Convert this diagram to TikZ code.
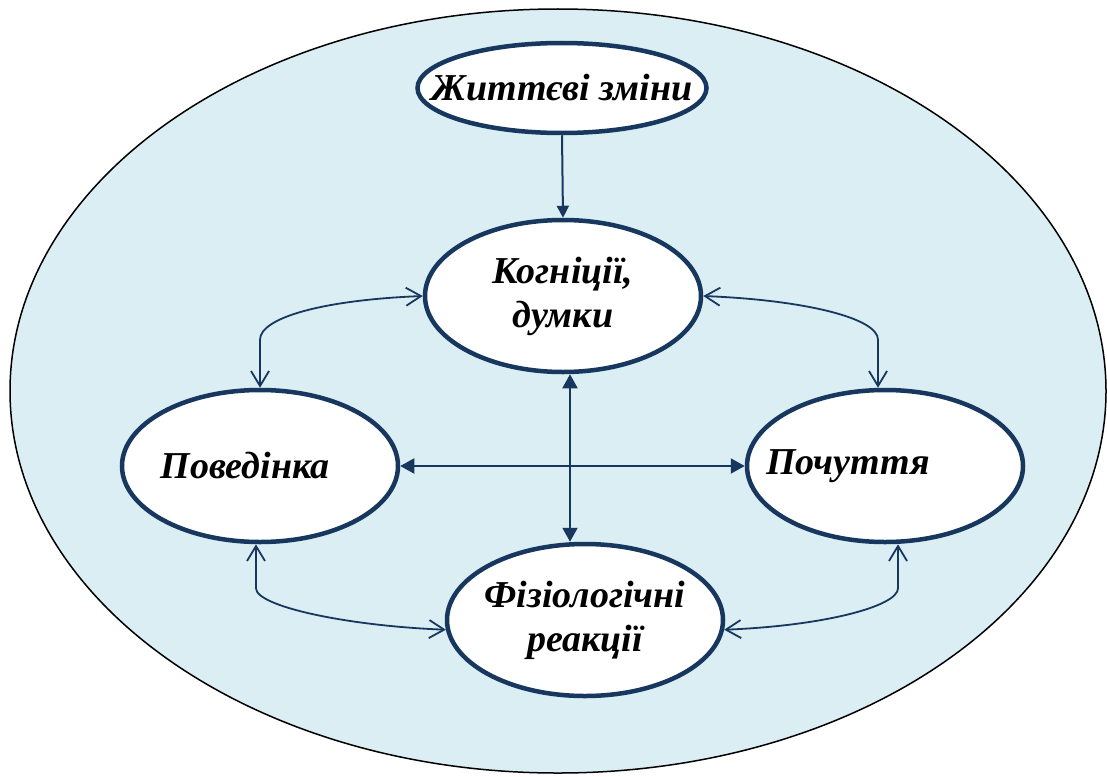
\documentclass[tikz,border=0pt]{standalone}
\usepackage{fontspec}
\setmainfont{Liberation Serif}
\usetikzlibrary{shapes.geometric, arrows.meta}
\definecolor{nodeblue}{HTML}{17375E}
\definecolor{fieldblue}{HTML}{DAEEF3}
\tikzstyle{field} = [draw=black, line width=1.5pt, fill=fieldblue]
\tikzstyle{enode} = [ellipse, draw=nodeblue, line width=4.5pt, fill=white, inner xsep=-60pt, inner ysep=-12pt, minimum width=276pt, minimum height=152pt, align=center, font=\bfseries\itshape\fontsize{38}{44}\selectfont]
\tikzstyle{line} = [draw=nodeblue, line width=2pt]
\tikzstyle{solidtip} = [line, -{Triangle[length=12pt,width=12pt]}]
\tikzstyle{bothsolid} = [line, {Triangle[length=14pt,width=15pt]}-{Triangle[length=14pt,width=15pt]}]
\tikzstyle{bothopen} = [draw=nodeblue, line width=1.8pt, {Straight Barb[length=15pt,width=18pt]}-{Straight Barb[length=15pt,width=18pt]}]

\begin{document}
\begin{tikzpicture}[x=1pt, y=-1pt]
	\useasboundingbox (0,0) rectangle (1107,776);
	\path [field] (558,391) ellipse [x radius=548pt, y radius=382pt];

	\node [enode, minimum width=289pt, minimum height=90pt] (life) at (562,88) {Життєві зміни};
	\node [enode] (cogn) at (563,296) {Когніції,\\думки};
	\node [enode] (behav) at (260,466) {Поведінка\hspace*{30pt}};
	\node [enode] (feel) at (885,466) {Почуття\hspace*{74pt}};
	\node [enode] (phys) at (585,620) {Фізіологічні\\реакції};

	\path [solidtip] (life.south) -- (cogn.north);
	\path [bothsolid] ([xshift=7pt]cogn.south) -- ([xshift=-15pt]phys.north);
	\path [bothsolid] (behav.east) -- (feel.west);
	\path [bothopen] (behav.north) -- ++(0,-48) .. controls +(0,-22) and +(-100,4) .. (cogn.west);
	\path [bothopen] ([xshift=-7pt]feel.north) -- ++(0,-48) .. controls +(0,-22) and +(100,4) .. (cogn.east);
	\path [bothopen] ([xshift=-4pt]behav.south) -- ++(0,44) .. controls +(0,18) and +(-100,-4) .. (phys.184);
	\path [bothopen] ([xshift=13pt]feel.south) -- ++(0,44) .. controls +(0,18) and +(100,-4) .. (phys.-4);
\end{tikzpicture}
\end{document}
